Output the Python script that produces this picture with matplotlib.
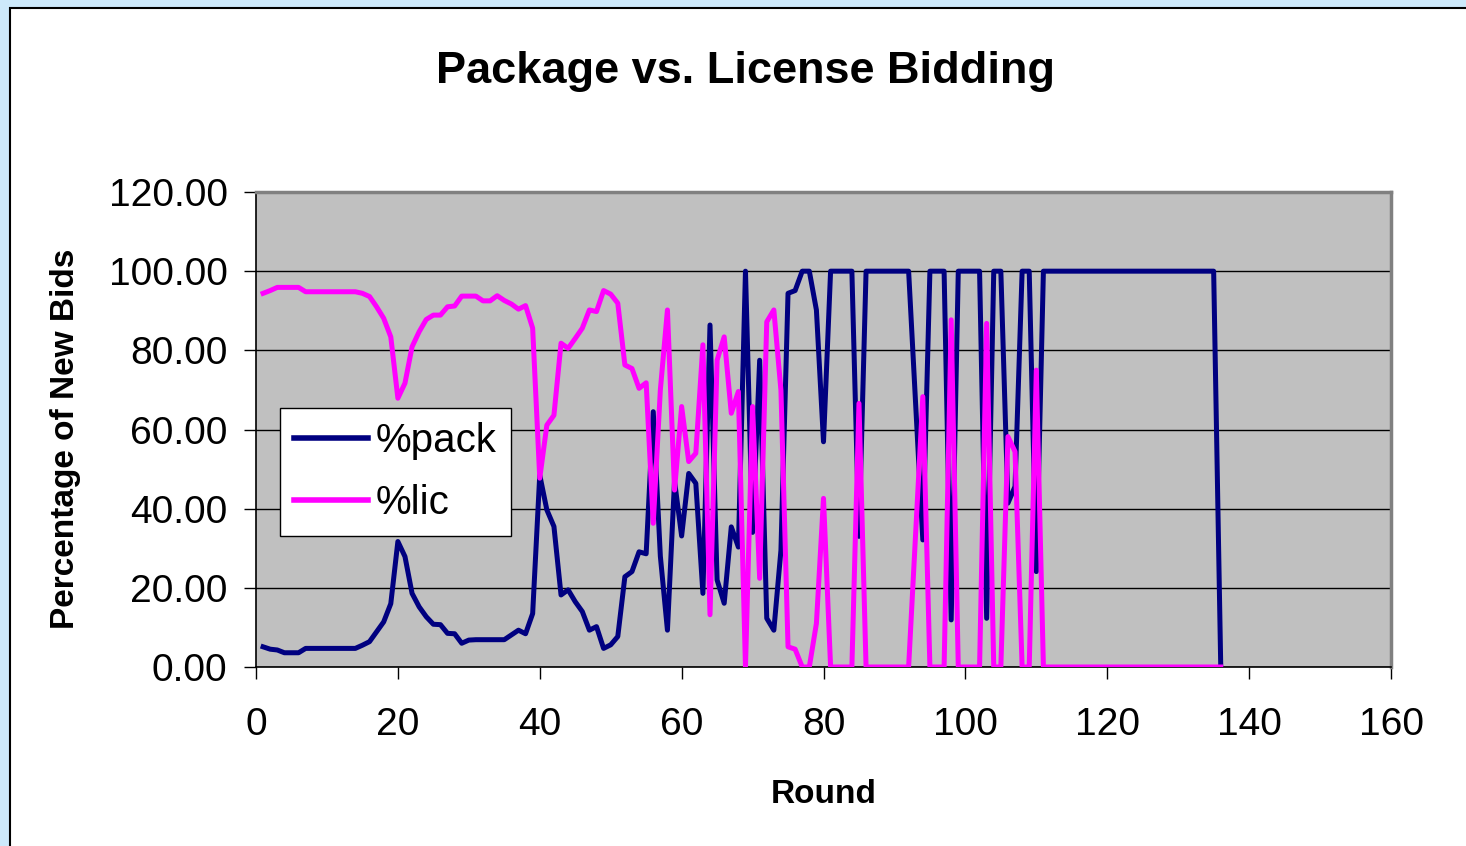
import matplotlib
matplotlib.use("Agg")
import matplotlib.pyplot as plt
from matplotlib.patches import Rectangle
from matplotlib.ticker import FormatStrFormatter

# Round numbers 1..136
rounds = list(range(1, 137))

# percentage of new bids that were package bids
pack = [
    5.1, 4.5, 4.3, 3.6, 3.6, 3.6, 4.7, 4.7, 4.7, 4.7,
    4.7, 4.7, 4.7, 4.7, 5.5, 6.4, 8.9, 11.4, 16.0, 31.7,
    27.9, 18.6, 15.2, 12.7, 10.8, 10.7, 8.5, 8.4, 6.0, 6.8,
    6.9, 6.9, 6.9, 6.9, 6.9, 8.1, 9.3, 8.4, 13.5, 48.5,
    39.7, 35.5, 18.2, 19.5, 16.5, 14.0, 9.3, 10.2, 4.7, 5.6,
    7.7, 22.8, 24.1, 29.1, 28.6, 64.5, 28.0, 9.3, 47.0, 33.1,
    48.9, 46.4, 18.6, 86.4, 22.0, 16.1, 35.4, 30.3, 100, 34.0,
    77.5, 12.3, 9.3, 29.5, 94.4, 95.1, 100, 100, 90.2, 56.9,
    100, 100, 100, 100, 33.0, 100, 100, 100, 100, 100,
    100, 100, 66.0, 32.1, 100, 100, 100, 11.9, 100, 100,
    100, 100, 12.3, 100, 100, 41.4, 45.6, 100, 100, 24.1,
] + [100] * 25 + [0]

# percentage of new bids that were license bids
lic = [
    94.4, 95.1, 95.9, 95.9, 95.9, 95.9, 94.8, 94.8, 94.8, 94.8,
    94.8, 94.8, 94.8, 94.8, 94.4, 93.6, 91.0, 88.1, 83.4, 67.9,
    71.7, 80.9, 84.7, 87.8, 88.9, 88.9, 91.0, 91.2, 93.7, 93.7,
    93.7, 92.5, 92.5, 93.8, 92.6, 91.7, 90.4, 91.3, 85.6, 47.7,
    61.1, 63.6, 81.8, 80.5, 83.0, 85.6, 90.2, 89.8, 95.1, 94.2,
    91.9, 76.3, 75.4, 70.4, 71.8, 36.3, 70.0, 90.2, 44.7, 65.8,
    51.9, 54.0, 81.4, 13.2, 77.5, 83.4, 64.1, 69.6, 0, 65.8,
    22.4, 87.2, 90.2, 69.9, 5.1, 4.5, 0, 0, 11.0, 42.6,
    0, 0, 0, 0, 66.6, 0, 0, 0, 0, 0,
    0, 0, 34.0, 68.3, 0, 0, 0, 87.7, 0, 0,
    0, 0, 86.8, 0, 0, 58.2, 54.4, 0, 0, 75.0,
] + [0] * 26

x_ticks = [0, 20, 40, 60, 80, 100, 120, 140, 160]
y_ticks = [0, 20, 40, 60, 80, 100, 120]

W, H = 1466, 846
plt.rcParams["font.family"] = ["Liberation Sans", "DejaVu Sans"]

fig = plt.figure(figsize=(W / 100, H / 100), dpi=100)
fig.patch.set_facecolor("#cde9fb")

# white chart panel with dark border, behind the axes
panel = Rectangle((10 / W, -0.05), 1.1, 1 - 8 / H + 0.05, transform=fig.transFigure,
                  facecolor="white", edgecolor="black", linewidth=1.5, zorder=-1)
fig.add_artist(panel)

ax = fig.add_axes([256 / W, 1 - 667 / H, (1391 - 256) / W, (667 - 192) / H])
ax.set_facecolor("#c0c0c0")

ax.plot(rounds, pack, color="#000080", linewidth=3.6, label="%pack", zorder=3)
ax.plot(rounds, lic, color="#ff00ff", linewidth=3.6, label="%lic", zorder=4)

ax.set_xlim(0, 160)
ax.set_ylim(0, 120)
ax.set_xticks(x_ticks)
ax.set_yticks(y_ticks)
ax.yaxis.set_major_formatter(FormatStrFormatter("%.2f"))
ax.grid(axis="y", color="black", linewidth=1.0)
ax.set_axisbelow(True)
ax.tick_params(axis="both", direction="out", length=8.5, width=1.0, color="black",
               labelsize=28)
ax.tick_params(axis="y", pad=12)
ax.tick_params(axis="x", pad=20)
ax.spines["top"].set_color("#808080")
ax.spines["right"].set_color("#808080")
ax.spines["top"].set_linewidth(2.5)
ax.spines["right"].set_linewidth(2.5)
ax.spines["left"].set_color("black")
ax.spines["bottom"].set_color("black")
ax.spines["left"].set_linewidth(1.2)
ax.spines["bottom"].set_linewidth(1.2)

ax.set_xlabel("Round", fontsize=24, fontweight="bold", labelpad=26)
ax.set_ylabel("Percentage of New Bids", fontsize=24, fontweight="bold")
ax.yaxis.set_label_coords(-0.154, 0.48)

fig.text(745 / W, 1 - 72 / H, "Package vs. License Bidding", fontsize=32.5,
         fontweight="bold", ha="center", va="center")

leg = ax.legend(loc="lower left", bbox_to_anchor=(0.021, 0.276), fontsize=29,
                frameon=True, fancybox=False, edgecolor="black", framealpha=1,
                handlelength=1.85, handletextpad=0.2, borderpad=0.34, labelspacing=0.6,
                borderaxespad=0)
leg.get_frame().set_linewidth(1.0)
for line in leg.get_lines():
    line.set_linewidth(4.0)

fig.savefig("out.png", dpi=100, facecolor=fig.get_facecolor())
